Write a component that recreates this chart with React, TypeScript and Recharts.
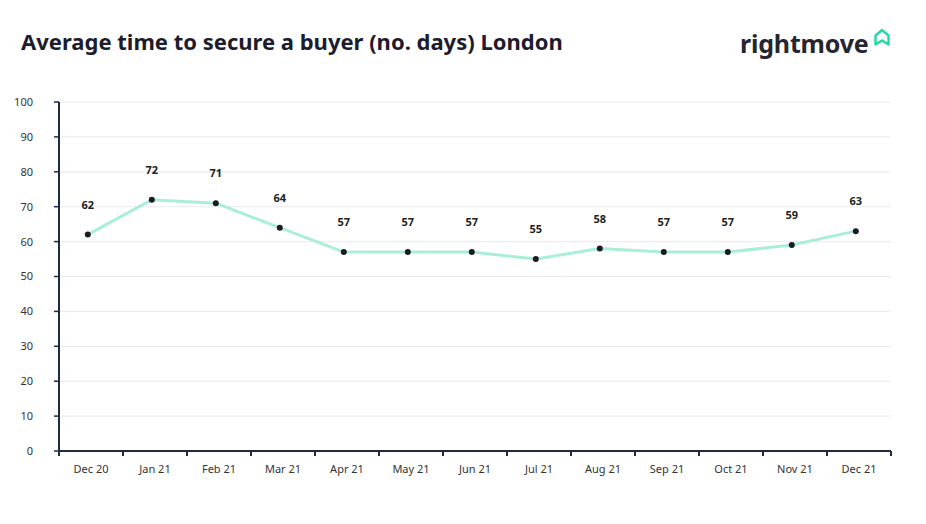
import React from "react";
import { LineChart, Line, XAxis, YAxis, CartesianGrid, LabelList } from "recharts";

const months = ["Dec 20", "Jan 21", "Feb 21", "Mar 21", "Apr 21", "May 21", "Jun 21", "Jul 21", "Aug 21", "Sep 21", "Oct 21", "Nov 21", "Dec 21"];
const days = [62, 72, 71, 64, 57, 57, 57, 55, 58, 57, 57, 59, 63];
const yTicks = [0, 10, 20, 30, 40, 50, 60, 70, 80, 90, 100];

const data = months.map((m, i) => ({ pos: i + 0.45, month: m, days: days[i] }));
const boundaryTicks = months.map((_, i) => i).concat([months.length]);

const FONT = "'Noto Sans', 'Open Sans', sans-serif";
const NAVY = "#1f2a44";

const XTick = (props: any) => {
  const { x, y, payload } = props;
  const v = payload.value as number;
  if (v >= months.length) return null;
  const band = 832 / months.length;
  return (
    <text x={x + band / 2} y={y + 15} textAnchor="middle" fontSize={11} fill="#333" fontFamily={FONT}>
      {months[v]}
    </text>
  );
};

const ValueLabel = (props: any) => {
  const { x, y, value } = props;
  return (
    <text x={x} y={y - 26} textAnchor="middle" fontSize={11} fontWeight={700} fill="#222" fontFamily={FONT}>
      {value}
    </text>
  );
};

export default function App() {
  return (
    <div style={{ position: "absolute", left: 0, top: 0, width: 926, height: 524, background: "#fff", fontFamily: FONT }}>
      <div style={{ position: "absolute", left: 21, top: 26, fontSize: 22, fontWeight: 700, color: "#1c1c2e", letterSpacing: 0, whiteSpace: "nowrap" }}>
        Average time to secure a buyer (no. days) London
      </div>
      <div style={{ position: "absolute", left: 740, top: 26, fontSize: 25, fontWeight: 700, color: "#262633", letterSpacing: -0.2, whiteSpace: "nowrap" }}>
        rightmove
      </div>
      <svg style={{ position: "absolute", left: 873, top: 28 }} width={18} height={19} viewBox="0 0 18 19">
        <path d="M2.5 16.5 L2.5 7.5 L9 2 L15.5 7.5 L15.5 16.5 L9 12.5 Z" fill="none" stroke="#22d7a8" strokeWidth={2.4} strokeLinejoin="round" />
      </svg>
      <div style={{ position: "absolute", left: 0, top: 0 }}>
        <LineChart width={926} height={524} data={data} margin={{ top: 102, right: 35, left: 0, bottom: 43 }}>
          <CartesianGrid horizontal={true} vertical={false} stroke="#e9e9f0" />
          <XAxis
            dataKey="pos"
            type="number"
            domain={[0, months.length]}
            ticks={boundaryTicks}
            interval={0}
            tick={<XTick />}
            tickSize={5}
            height={30}
            axisLine={{ stroke: NAVY, strokeWidth: 2 }}
            tickLine={{ stroke: NAVY, strokeWidth: 2 }}
            allowDecimals={false}
          />
          <YAxis
            type="number"
            domain={[0, 100]}
            ticks={yTicks}
            interval={0}
            width={59}
            tickSize={5}
            tickMargin={21}
            tick={{ fontSize: 11, fill: "#333", fontFamily: FONT }}
            axisLine={{ stroke: NAVY, strokeWidth: 2 }}
            tickLine={{ stroke: NAVY, strokeWidth: 1.5 }}
          />
          <Line
            type="linear"
            dataKey="days"
            stroke="#a9eedb"
            strokeWidth={3}
            dot={{ r: 3, fill: "#1b1b26", stroke: "#1b1b26", strokeWidth: 0 }}
            activeDot={false}
            isAnimationActive={false}
          >
            <LabelList dataKey="days" content={<ValueLabel />} />
          </Line>
        </LineChart>
      </div>
    </div>
  );
}
